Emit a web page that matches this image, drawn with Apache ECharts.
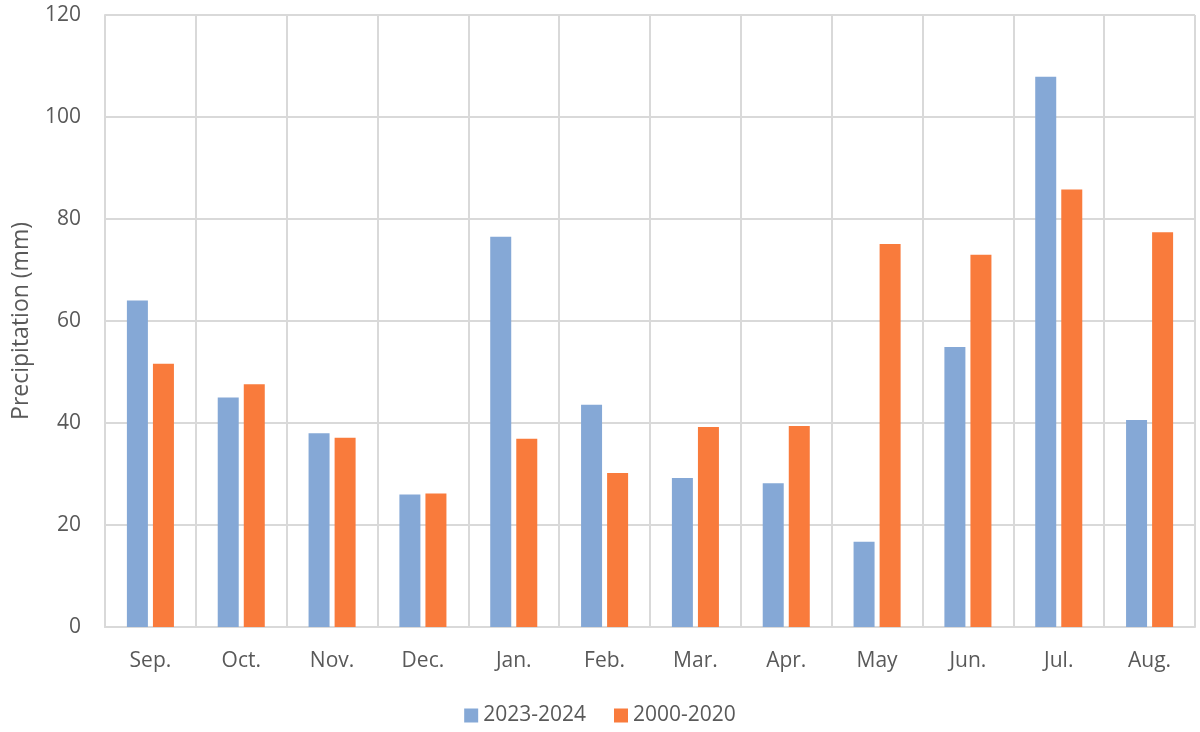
<!DOCTYPE html>
<html>
<head>
<meta charset="utf-8">
<script src="https://cdn.jsdelivr.net/npm/echarts@6/dist/echarts.min.js"></script>
<style>html,body{margin:0;padding:0;background:#fff}#c{width:1200px;height:732px}</style>
</head>
<body>
<div id="c"></div>
<script>
const categories = ['Sep.', 'Oct.', 'Nov.', 'Dec.', 'Jan.', 'Feb.', 'Mar.', 'Apr.', 'May', 'Jun.', 'Jul.', 'Aug.'];
const series2023 = [64.0, 45.0, 38.0, 26.0, 76.5, 43.6, 29.2, 28.2, 16.7, 54.9, 107.9, 40.6];
const series2000 = [51.6, 47.6, 37.1, 26.2, 36.9, 30.2, 39.2, 39.4, 75.1, 73.0, 85.8, 77.4];
const seriesNames = ['2023-2024', '2000-2020'];

const font = 'Open Sans';
const chart = echarts.init(document.getElementById('c'));
chart.setOption({
  animation: false,
  textStyle: { fontFamily: font },
  grid: { left: 105, right: 5, top: 15, bottom: 105 },
  legend: {
    bottom: 1,
    left: 'center',
    itemWidth: 14, itemHeight: 14, itemGap: 28,
    icon: 'rect',
    textStyle: { fontSize: 21, color: '#595959', fontFamily: font },
    data: seriesNames
  },
  xAxis: {
    type: 'category',
    data: categories,
    axisLine: { lineStyle: { color: '#d9d9d9', width: 2 } },
    axisTick: { show: false },
    axisLabel: { fontSize: 21, color: '#595959', margin: 24 },
    splitLine: { show: true, lineStyle: { color: '#d9d9d9', width: 2 } }
  },
  yAxis: {
    type: 'value',
    min: 0, max: 120, interval: 20,
    name: 'Precipitation (mm)',
    nameLocation: 'middle',
    nameGap: 72,
    nameTextStyle: { fontSize: 23, color: '#595959' },
    axisLine: { show: true, lineStyle: { color: '#d9d9d9', width: 2 } },
    axisTick: { show: false },
    axisLabel: { fontSize: 21, color: '#595959', margin: 24 },
    splitLine: { lineStyle: { color: '#d9d9d9', width: 2 } }
  },
  series: [
    { name: seriesNames[0], type: 'bar', data: series2023, barWidth: 21, barGap: '24%', itemStyle: { color: '#85a8d6' } },
    { name: seriesNames[1], type: 'bar', data: series2000, barWidth: 21, barGap: '24%', itemStyle: { color: '#f97b3c' } }
  ]
});
</script>
</body>
</html>
